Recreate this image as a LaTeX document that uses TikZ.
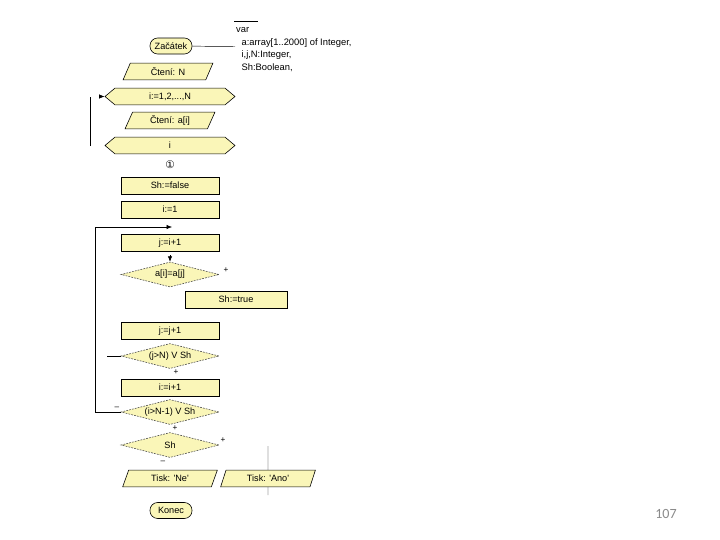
\documentclass[tikz,border=0pt]{standalone}
\usepackage{fontspec}
\setmainfont{Liberation Sans}
\newfontfamily\symfont{DejaVu Sans}
\newfontfamily\slidefont{Carlito}
\usetikzlibrary{arrows.meta, shapes.geometric, shapes.symbols}
\definecolor{blokFill}{HTML}{FAF6B8}
\definecolor{obrys}{HTML}{4A4A4A}
\definecolor{cisloSl}{HTML}{8A8A8A}

\begin{document}
\begin{tikzpicture}[x=0.3mm, y=-0.3mm,
    blok/.style={draw=black, fill=blokFill, line width=0.5pt, inner sep=0pt,
                 minimum width=29.4mm, minimum height=5mm,
                 font=\fontsize{7.8}{9}\selectfont},
    vstup/.style={blok, trapezium, trapezium left angle=68, trapezium right angle=112,
                  trapezium stretches=true, minimum width=27mm},
    cyklus/.style={blok, signal, signal to=west and east, signal pointer angle=80,
                   minimum width=39mm},
    rozh/.style={blok, diamond, aspect=3.9, draw=obrys, dash pattern=on 1.5pt off 1pt,
                 minimum height=7.5mm},
    mez/.style={blok, rounded corners=2.3mm, minimum width=12.6mm, minimum height=4.8mm},
    zn/.style={font=\fontsize{7}{8}\selectfont, inner sep=0pt},
    fl/.style={-{Latex[length=1.6mm, width=1.3mm]}, line width=0.5pt}]
    \useasboundingbox (0,0) rectangle (720,540);
    % hlavicka a nacteni pole
    \node[mez] (zac) at (171,46) {Začátek};
    \node[vstup] (ctN) at (168,71.5) {Čtení: N};
    \node[cyklus] (cyk) at (170,96.5) {i:=1,2,...,N};
    \node[vstup] (ctA) at (170,120.5) {Čtení: a[i]};
    \node[cyklus] (kon) at (170,145.5) {i};
    \node[font=\symfont\fontsize{9}{10}\selectfont, inner sep=0pt] (k1) at (170,165) {①};
    % hledani shodnych prvku
    \node[blok] (shF) at (170,185.5) {Sh:=false};
    \node[blok] (i1) at (170,209.5) {i:=1};
    \node[blok] (j1) at (170,243) {j:=i+1};
    \node[rozh] (r1) at (170,274.5) {a[i]=a[j]};
    \node[blok, minimum width=30.6mm] (shT) at (236,299.5) {Sh:=true};
    \node[blok] (jj) at (170,331) {j:=j+1};
    \node[rozh] (r2) at (170,356) {(j>N) V Sh};
    \node[blok] (ii) at (170,387.5) {i:=i+1};
    \node[rozh] (r3) at (170,412) {(i>N-1) V Sh};
    \node[rozh] (r4) at (170,445) {Sh};
    \node[vstup, minimum width=28.5mm] (ne) at (170,478.5) {Tisk: \textquotesingle Ne\textquotesingle};
    \node[vstup, minimum width=28.5mm] (ano) at (268,478.5) {Tisk: \textquotesingle Ano\textquotesingle};
    \node[mez] (konec) at (171,510.5) {Konec};
    % deklarace
    \node[anchor=north west, align=left, inner sep=0pt,
          font=\fontsize{8}{10.6}\selectfont] (dekl) at (236,27.5)
        {var\\\hspace*{1.6mm}a:array[1..2000] of Integer,\\
         \hspace*{1.6mm}i,j,N:Integer,\\\hspace*{1.6mm}Sh:Boolean,};
    \coordinate (kom) at (235,46.5);
    \coordinate (ka) at (234,21);
    \coordinate (kb) at (258,21);
    \draw (zac) -- (kom);
    \draw (ka) -- (kb);
    % spojnice
    \coordinate (sd) at (90,146);
    \coordinate (sh) at (90,96.5);
    \coordinate (sa) at (99,96.5);
    \draw (sd) -- (sh);
    \draw[fl] (sa) -- (cyk.west);
    \coordinate (zp) at (95,227);
    \coordinate (zk) at (172,227);
    \draw[fl] (r3.west) -| (zp) -- (zk);
    \coordinate (ra) at (170,255);
    \draw[fl] (ra) -- (r1.north);
    \coordinate (r2l) at (107,356);
    \draw (r2l) -- (r2.west);
    \coordinate (ah) at (268,446);
    \coordinate (ad) at (268,495);
    \draw (ah) -- (ano.north);
    \draw (ano.south) -- (ad);
    % znamenka vetveni
    \node[zn] (p1) at (226,270) {+};
    \node[zn] (p2) at (176,372) {+};
    \node[zn] (m3) at (117,408) {--};
    \node[zn] (p3) at (175,428) {+};
    \node[zn] (p4) at (223,440) {+};
    \node[zn] (m4) at (163,462) {--};
    \node[font=\slidefont\fontsize{12}{14}\selectfont, text=cisloSl] (cs) at (666,514) {107};
\end{tikzpicture}
\end{document}
